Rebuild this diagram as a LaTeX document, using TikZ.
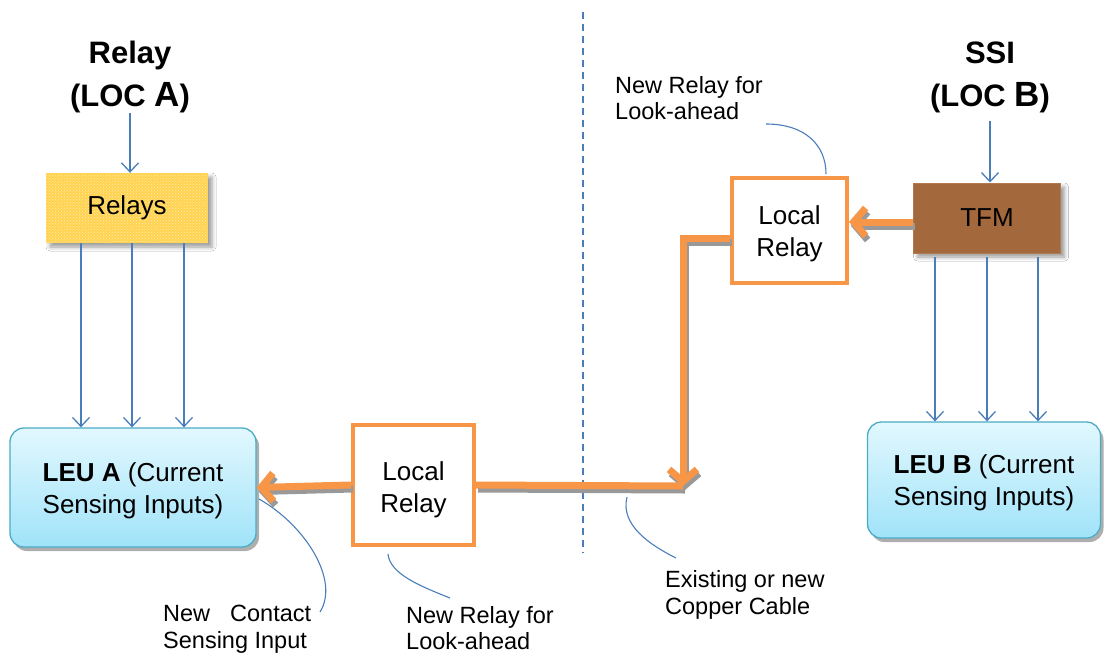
\documentclass[tikz,border=0pt]{standalone}
\usepackage{fontspec}
\setmainfont{Liberation Sans}
\usetikzlibrary{arrows.meta,shadows,shadows.blur,patterns}

\definecolor{linkblue}{RGB}{74,126,187}
\definecolor{relayorange}{RGB}{247,150,70}
\definecolor{leutop}{RGB}{226,248,254}
\definecolor{leubottom}{RGB}{160,227,249}
\definecolor{leuborder}{RGB}{75,172,198}
\definecolor{tfmbrown}{RGB}{163,104,60}
\definecolor{tfmedge}{RGB}{178,122,78}
\definecolor{relayyellow}{RGB}{255,210,80}
\definecolor{relaydots}{RGB}{255,238,175}

\newcommand{\mainsize}{\fontsize{26}{32}\selectfont}
\newcommand{\notesize}{\fontsize{23.5}{26.5}\selectfont}
\newcommand{\titlesize}{\fontsize{31}{43}\selectfont\bfseries}

\tikzset{
  feed/.style={draw=linkblue, line width=1.3pt, -{Straight Barb[length=9pt,width=17pt]}},
  callout/.style={draw=linkblue, line width=1.1pt},
  divider/.style={draw=linkblue, line width=1.2pt, dash pattern=on 7pt off 5pt},
  cable/.style={draw=relayorange, line width=7pt},
  cableshadow/.style={draw=black!40, line width=7pt},
  cabletip/.style={-{Straight Barb[length=12pt,width=28pt]}},
  title/.style={font=\titlesize, align=center, inner sep=0pt},
  note/.style={font=\notesize, align=left, anchor=west, inner sep=0pt},
  relaysbox/.style={fill=relayyellow, postaction={pattern=crosshatch dots, pattern color=relaydots},
    minimum width=162pt, minimum height=70pt, font=\mainsize,
    blur shadow={shadow xshift=4pt, shadow yshift=-4pt, shadow blur radius=4pt}},
  tfmbox/.style={fill=tfmbrown, draw=tfmedge, line width=1pt,
    minimum width=147pt, minimum height=70pt, font=\mainsize,
    blur shadow={shadow xshift=4pt, shadow yshift=-4pt, shadow blur radius=4pt}},
  leu/.style={draw=leuborder, line width=1.3pt, rounded corners=14pt,
    top color=leutop, bottom color=leubottom, font=\mainsize, align=center,
    drop shadow={shadow xshift=3pt, shadow yshift=-4pt, opacity=0.45, fill=black!70}},
  localrelay/.style={draw=relayorange, line width=4pt, fill=white, font=\mainsize, align=center},
}

% cable runs; #1 is the line style, #2 an offset applied to every point
\newcommand{\cableruns}[2]{%
  \draw[#1, cabletip] ([#2]tfmOut) -- ([#2]lrBin);
  \draw[#1] ([#2]lrAout) -- ([#2]join);
  \draw[#1, cabletip] ([#2]lrBout) -- ([#2]bend) -- ([#2]join);
  \draw[#1, cabletip] ([#2]lrAin) -- ([#2]leuAin);
}

\begin{document}
\begin{tikzpicture}[x=1pt,y=-1pt]
  \fill[white] (0,0) rectangle (1105,654);
  \useasboundingbox (0,0) rectangle (1105,654);

  % site boundary
  \coordinate (divtop) at (583,12);
  \coordinate (divbot) at (583,553);
  \draw[divider] (divtop) -- (divbot);

  % location titles
  \node[title] (titleA) at (130,77) {Relay\\(LOC {\fontsize{35}{43}\selectfont A})};
  \node[title] (titleB) at (990,77) {SSI\\(LOC {\fontsize{35}{43}\selectfont B})};

  % equipment
  \node[relaysbox] (relays) at (127,208) {Relays};
  \node[tfmbox] (tfm) at (987,218) {TFM};
  \node[leu, minimum width=246pt, minimum height=119pt] (leuA) at (133,487.5)
    {\rule{0pt}{25pt}\textbf{LEU A} (Current\\Sensing Inputs)};
  \node[leu, minimum width=233pt, minimum height=116pt] (leuB) at (984,480)
    {\rule{0pt}{25pt}\textbf{LEU B} (Current\\Sensing Inputs)};
  \node[localrelay, minimum width=121pt, minimum height=120pt] (lrA) at (413.5,485)
    {\rule{0pt}{29pt}Local\\Relay};
  \node[localrelay, minimum width=115pt, minimum height=105pt] (lrB) at (789.5,230)
    {\rule{0pt}{26pt}Local\\Relay};

  % feeds from the titles
  \draw[feed] (titleA.south) -- (titleA.south |- relays.north);
  \draw[feed] ([yshift=-8pt]titleB.south) -- (titleB.south |- tfm.north);

  % relay outputs to LEU A
  \coordinate (tapA1) at (81,0);
  \coordinate (tapA2) at (132,0);
  \coordinate (tapA3) at (184,0);
  \foreach \t in {tapA1,tapA2,tapA3}
    \draw[feed] (relays.south -| \t) -- (leuA.north -| \t);

  % TFM outputs to LEU B
  \coordinate (tapB1) at (935,0);
  \coordinate (tapB2) at (987,0);
  \coordinate (tapB3) at (1038,0);
  \foreach \t in {tapB1,tapB2,tapB3}
    \draw[feed] ([yshift=-3pt]tfm.south -| \t) -- (leuB.north -| \t);

  % copper cable between the two locations
  \coordinate (bend) at (683,238);
  \coordinate (join) at (683,486);
  \coordinate (tfmrow) at (0,222);
  \coordinate (tfmOut) at (tfm.west |- tfmrow);
  \coordinate (lrBin) at (lrB.east |- tfmrow);
  \coordinate (lrBout) at (lrB.west |- bend);
  \coordinate (lrAout) at (lrA.east);
  \coordinate (lrAin) at (lrA.west);
  \coordinate (leuAin) at (leuA.east);
  \cableruns{cableshadow}{xshift=2pt,yshift=-4pt}
  \cableruns{cable}{}

  % annotations
  \node[note] (noteTop) at (615,98) {New Relay for\\Look-ahead};
  \node[note] (noteLow) at (406,628) {New Relay for\\Look-ahead};
  \node[note] (noteCable) at (665,595) {Existing or new\\Copper Cable};
  \node[note] (noteInput) at (163,629) {\makebox[148pt][s]{New Contact}\\Sensing Input};

  \coordinate (cTopA) at (766,124);
  \coordinate (cTopB) at (826,174);
  \draw[callout] (cTopA) .. controls (805,124) and (826,145) .. (cTopB);

  \coordinate (cLowA) at (388,554);
  \coordinate (cLowB) at (450,598);
  \draw[callout] (cLowA) .. controls (390,574) and (420,586) .. (cLowB);

  \coordinate (cCabA) at (627,497);
  \coordinate (cCabB) at (676,558);
  \draw[callout] (cCabA) .. controls (620,525) and (650,545) .. (cCabB);

  \coordinate (cInA) at (259,499);
  \coordinate (cInB) at (320,612);
  \draw[callout] (cInA) .. controls (305,525) and (340,580) .. (cInB);
\end{tikzpicture}
\end{document}
